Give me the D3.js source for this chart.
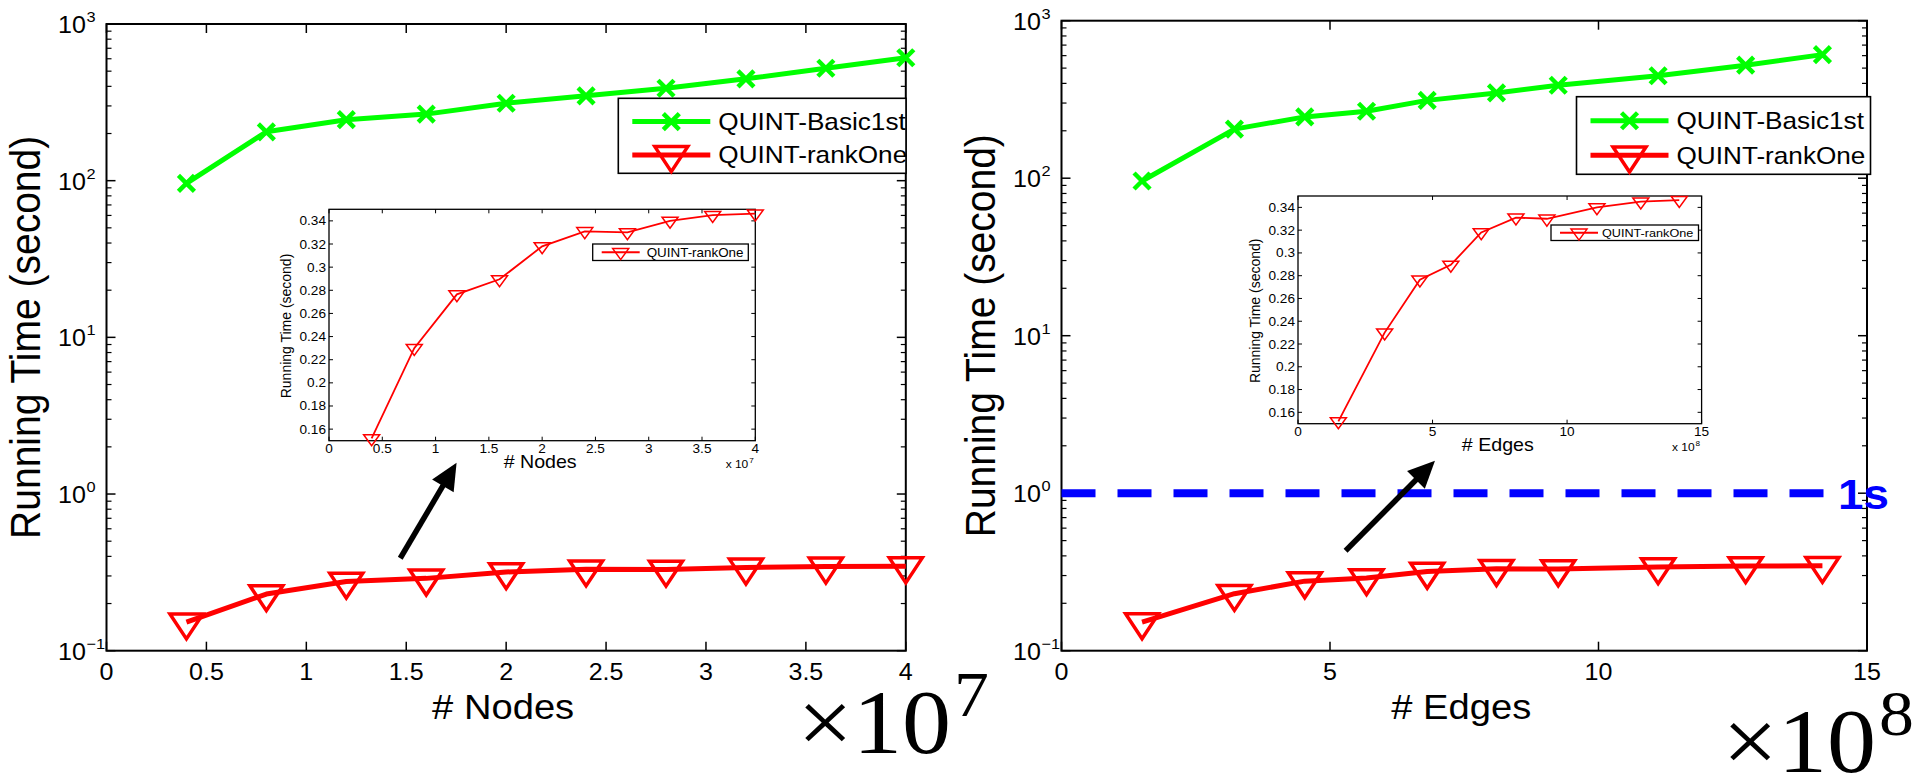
<!DOCTYPE html>
<html>
<head>
<meta charset="utf-8">
<script src="https://cdn.jsdelivr.net/npm/d3@7"></script>
<style>
  body { margin: 0; background: #fff; }
  svg { display: block; }
</style>
</head>
<body>
<svg id="chart" width="1915" height="774"></svg>
<script>
// data
var nodes = [0.4, 0.8, 1.2, 1.6, 2.0, 2.4, 2.8, 3.2, 3.6, 4.0];              // x 10^7
var edges = [1.5, 3.22, 4.53, 5.68, 6.81, 8.1, 9.25, 11.11, 12.74, 14.17];   // x 10^8
var basic1stTime = [96, 205, 245, 266, 312, 348, 389, 447, 522, 609];
var rankOneTime = [0.152, 0.230, 0.2765, 0.2895, 0.318, 0.331, 0.330, 0.340, 0.345, 0.3463];
var nodeTicks = [0, 0.5, 1, 1.5, 2, 2.5, 3, 3.5, 4];
var edgeTicks = [0, 5, 10, 15];
var logExps = [-1, 0, 1, 2, 3];
var insetYTicks = [0.16, 0.18, 0.2, 0.22, 0.24, 0.26, 0.28, 0.3, 0.32, 0.34];
var seriesNames = ['QUINT-Basic1st', 'QUINT-rankOne'];
var oneSecond = 1;

var SX = 1.09; // the figure is a bit wider than tall, text looks stretched
var sans = 'Liberation Sans, Arial, Helvetica, sans-serif';
var serif = 'Liberation Serif, Times New Roman, serif';
var green = '#00ff00', red = '#ff0000', blue = '#0000ff';

var panels = [
	{ xs: nodes, xTicks: nodeTicks, xMax: 4, xLabel: '# Nodes', exp: '7',
	  box: { l: 106.5, r: 905.8, t: 24, b: 650.7 },
	  inset: { l: 329, r: 755.3, t: 209.3, b: 440.7 },
	  legend: { x: 618.3, y: 98.3, w: 287.7, h: 75 },
	  insetLegend: { x: 592.7, y: 244, w: 155.6, h: 16.5, fs: 12.3, tx: 54 },
	  ylabX: 39.6, mult: { x: 951, y: 753 },
	  arrow: [[1.47, 0.389], [1.752, 1.585]], limit: false },
	{ xs: edges, xTicks: edgeTicks, xMax: 15, xLabel: '# Edges', exp: '8',
	  box: { l: 1061.5, r: 1867, t: 20.7, b: 650.7 },
	  inset: { l: 1298, r: 1701.6, t: 196, b: 423.7 },
	  legend: { x: 1576.5, y: 96.7, w: 294, h: 77.6 },
	  insetLegend: { x: 1551, y: 225, w: 147.5, h: 15.5, fs: 11.6, tx: 51 },
	  ylabX: 994.5, mult: { x: 1876, y: 772 },
	  arrow: [[5.29, 0.431], [6.955, 1.607]], limit: true }
];

var svg = d3.select('#chart');

function stext(parent, x, y, str, size, opts) {
	opts = opts || {};
	var g = parent.append('g')
		.attr('transform', 'translate(' + x + ',' + y + ') scale(' + SX + ',1)' + (opts.rotate ? ' rotate(' + opts.rotate + ')' : ''));
	return g.append('text')
		.attr('x', 0).attr('y', 0)
		.attr('font-family', opts.family || sans)
		.attr('font-size', size)
		.attr('font-weight', opts.weight || 'normal')
		.attr('text-anchor', opts.anchor || 'start')
		.attr('fill', opts.fill || '#000')
		.text(str);
}

function xMarker(g, cx, cy, s, w, color) {
	g.append('path')
		.attr('d', 'M' + (cx - s) + ',' + (cy - s) + 'L' + (cx + s) + ',' + (cy + s) + 'M' + (cx - s) + ',' + (cy + s) + 'L' + (cx + s) + ',' + (cy - s))
		.attr('stroke', color).attr('stroke-width', w).attr('fill', 'none');
}
function triMarker(g, cx, cy, w, h, sw, color) {
	g.append('path')
		.attr('d', 'M' + (cx - w / 2) + ',' + (cy - h / 3) + 'L' + (cx + w / 2) + ',' + (cy - h / 3) + 'L' + cx + ',' + (cy + 2 * h / 3) + 'Z')
		.attr('stroke', color).attr('stroke-width', sw).attr('fill', 'none').attr('stroke-linejoin', 'miter');
}

var arrows = svg.append('g').attr('class', 'arrows');

panels.forEach(function(p) {
	var b = p.box;
	var x = d3.scaleLinear().domain([0, p.xMax]).range([b.l, b.r]);
	var y = d3.scaleLog().domain([0.1, 1000]).range([b.b, b.t]);
	var g = svg.insert('g', '.arrows');

	// axes box and ticks (matlab style, inward on all sides)
	g.append('rect').attr('x', b.l).attr('y', b.t).attr('width', b.r - b.l).attr('height', b.b - b.t)
		.attr('fill', 'none').attr('stroke', '#000').attr('stroke-width', 2);
	p.xTicks.forEach(function(v) {
		g.append('line').attr('x1', x(v)).attr('x2', x(v)).attr('y1', b.b).attr('y2', b.b - 9).attr('stroke', '#000').attr('stroke-width', 1.5);
		g.append('line').attr('x1', x(v)).attr('x2', x(v)).attr('y1', b.t).attr('y2', b.t + 9).attr('stroke', '#000').attr('stroke-width', 1.5);
		stext(g, x(v), b.b + 29.5, String(v), 23, { anchor: 'middle' });
	});
	logExps.forEach(function(e) {
		var yy = y(Math.pow(10, e));
		[[b.l, 9], [b.r, -9]].forEach(function(s) {
			g.append('line').attr('x1', s[0]).attr('x2', s[0] + s[1]).attr('y1', yy).attr('y2', yy).attr('stroke', '#000').attr('stroke-width', 1.5);
		});
		if (e < 3) {
			for (var k = 2; k <= 9; k++) {
				var ym = y(k * Math.pow(10, e));
				[[b.l, 5], [b.r, -5]].forEach(function(s) {
					g.append('line').attr('x1', s[0]).attr('x2', s[0] + s[1]).attr('y1', ym).attr('y2', ym).attr('stroke', '#000').attr('stroke-width', 1.2);
				});
			}
		}
		stext(g, b.l - 20.5, yy + 9, '10', 23, { anchor: 'end' });
		stext(g, b.l - 20, yy - 2, e < 0 ? '\u2212' + Math.abs(e) : String(e), 15);
	});

	// axis titles
	stext(g, p.ylabX, (b.t + b.b) / 2, 'Running Time (second)', 39, { anchor: 'middle', rotate: -90 });
	stext(g, (b.l + b.r) / 2 - 3, 719, p.xLabel, 35, { anchor: 'middle' });
	stext(g, p.mult.x, p.mult.y, '\u00d710', 90, { anchor: 'end', family: serif });
	stext(g, p.mult.x + 3, p.mult.y - 37, p.exp, 64, { family: serif });

	// 1 second reference line
	if (p.limit) {
		g.append('line').attr('x1', b.l).attr('x2', 1830).attr('y1', y(oneSecond)).attr('y2', y(oneSecond))
			.attr('stroke', blue).attr('stroke-width', 8).attr('stroke-dasharray', '34,22');
		stext(g, 1838, y(oneSecond) + 16, '1s', 42, { weight: 'bold', fill: blue });
	}

	// series
	var basic = p.xs.map(function(v, i) { return { x: v, y: basic1stTime[i] }; });
	var rank = p.xs.map(function(v, i) { return { x: v, y: rankOneTime[i] }; });
	var line = d3.line().x(function(d) { return x(d.x); }).y(function(d) { return y(d.y); });
	g.append('path').attr('d', line(basic)).attr('fill', 'none').attr('stroke', green).attr('stroke-width', 5).attr('stroke-linejoin', 'round');
	basic.forEach(function(d) { xMarker(g, x(d.x), y(d.y), 8, 4.5, green); });
	g.append('path').attr('d', line(rank)).attr('fill', 'none').attr('stroke', red).attr('stroke-width', 5).attr('stroke-linejoin', 'round');
	rank.forEach(function(d) { triMarker(g, x(d.x), y(d.y), 33, 25, 3.5, red); });

	// legend
	var L = p.legend;
	g.append('rect').attr('x', L.x).attr('y', L.y).attr('width', L.w).attr('height', L.h)
		.attr('fill', '#fff').attr('stroke', '#000').attr('stroke-width', 1.6);
	var rows = [L.y + L.h * 0.31, L.y + L.h * 0.755];
	rows.forEach(function(ry, i) {
		var c = i === 0 ? green : red;
		g.append('line').attr('x1', L.x + 14).attr('x2', L.x + 92).attr('y1', ry).attr('y2', ry).attr('stroke', c).attr('stroke-width', 5);
		if (i === 0) xMarker(g, L.x + 53, ry, 8, 4.5, c);
		else triMarker(g, L.x + 53, ry, 33, 25, 3.5, c);
		stext(g, L.x + 100, ry + 8.5, seriesNames[i], 24);
	});

	// inset: zoom on rankOne
	var I = p.inset;
	var xi = d3.scaleLinear().domain([0, p.xMax]).range([I.l, I.r]);
	var yi = d3.scaleLinear().domain([0.15, 0.35]).range([I.b, I.t]);
	var gi = svg.insert('g', '.arrows');
	gi.append('rect').attr('x', I.l).attr('y', I.t).attr('width', I.r - I.l).attr('height', I.b - I.t)
		.attr('fill', '#fff').attr('stroke', '#000').attr('stroke-width', 1.3);
	p.xTicks.forEach(function(v) {
		gi.append('line').attr('x1', xi(v)).attr('x2', xi(v)).attr('y1', I.b).attr('y2', I.b - 4).attr('stroke', '#000');
		gi.append('line').attr('x1', xi(v)).attr('x2', xi(v)).attr('y1', I.t).attr('y2', I.t + 4).attr('stroke', '#000');
		stext(gi, xi(v), I.b + 12.5, String(v), 12.5, { anchor: 'middle' });
	});
	insetYTicks.forEach(function(v) {
		gi.append('line').attr('x1', I.l).attr('x2', I.l + 4).attr('y1', yi(v)).attr('y2', yi(v)).attr('stroke', '#000');
		gi.append('line').attr('x1', I.r).attr('x2', I.r - 4).attr('y1', yi(v)).attr('y2', yi(v)).attr('stroke', '#000');
		stext(gi, I.l - 3, yi(v) + 4.5, String(v), 12.5, { anchor: 'end' });
	});
	stext(gi, I.l - 38, (I.t + I.b) / 2 + 1, 'Running Time (second)', 14, { anchor: 'middle', rotate: -90 });
	stext(gi, (I.l + I.r) / 2 - 2, I.b + 27.5, p.xLabel, 18, { anchor: 'middle' });
	stext(gi, I.r - 7, I.b + 27, 'x 10', 11, { anchor: 'end' });
	stext(gi, I.r - 6, I.b + 22, p.exp, 7.5);

	var linei = d3.line().x(function(d) { return xi(d.x); }).y(function(d) { return yi(d.y); });
	gi.append('path').attr('d', linei(rank)).attr('fill', 'none').attr('stroke', red).attr('stroke-width', 1.8);
	rank.forEach(function(d) { triMarker(gi, xi(d.x), yi(d.y), 16, 11, 1.5, red); });

	var IL = p.insetLegend;
	gi.append('rect').attr('x', IL.x).attr('y', IL.y).attr('width', IL.w).attr('height', IL.h)
		.attr('fill', '#fff').attr('stroke', '#000').attr('stroke-width', 1.3);
	var iy = IL.y + IL.h / 2;
	gi.append('line').attr('x1', IL.x + 9).attr('x2', IL.x + 47).attr('y1', iy).attr('y2', iy).attr('stroke', red).attr('stroke-width', 1.8);
	triMarker(gi, IL.x + 28, iy, 16, 11, 1.5, red);
	stext(gi, IL.x + IL.tx, iy + 4.3, seriesNames[1], IL.fs);

	// arrow pointing to the inset
	var t0 = [x(p.arrow[0][0]), y(p.arrow[0][1])], t1 = [x(p.arrow[1][0]), y(p.arrow[1][1])];
	var dx = t1[0] - t0[0], dy = t1[1] - t0[1], len = Math.sqrt(dx * dx + dy * dy);
	var ux = dx / len, uy = dy / len, hl = 27, hw = 12.5;
	var bx = t1[0] - ux * hl, by = t1[1] - uy * hl;
	arrows.append('line').attr('x1', t0[0]).attr('y1', t0[1]).attr('x2', bx + ux * 2).attr('y2', by + uy * 2)
		.attr('stroke', '#000').attr('stroke-width', 5.5);
	arrows.append('path')
		.attr('d', 'M' + t1[0] + ',' + t1[1] + 'L' + (bx - uy * hw) + ',' + (by + ux * hw) + 'L' + (bx + uy * hw) + ',' + (by - ux * hw) + 'Z')
		.attr('fill', '#000');
});
</script>
</body>
</html>
